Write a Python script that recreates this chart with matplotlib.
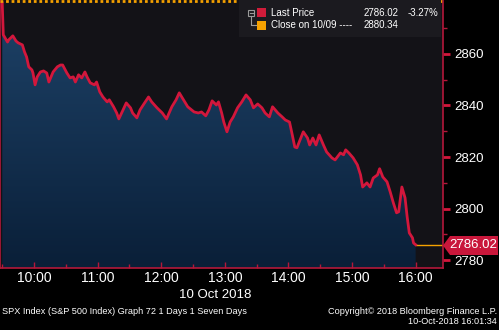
import numpy as np
import matplotlib
matplotlib.use('Agg')
import matplotlib.pyplot as plt
from matplotlib.colors import LinearSegmentedColormap
from matplotlib.patches import Rectangle, Polygon
from matplotlib.ticker import FixedLocator, FuncFormatter

plt.rcParams['font.family'] = ['Liberation Sans', 'DejaVu Sans']

# minutes after 09:30 and SPX price
minutes = [0, 1, 5, 6, 10, 13, 15, 19, 21, 23, 25, 28, 29, 31, 33, 36, 39, 42, 44, 48,
           52, 55, 57, 61, 64, 67, 69, 72, 75, 78, 80, 83, 87, 89, 92, 95, 99, 101, 105,
           108, 110, 114, 117, 121, 123, 127, 130, 133, 138, 141, 146, 151, 155, 160,
           164, 167, 171, 175, 181, 185, 188, 192, 195, 198, 202, 204, 207, 209, 212,
           215, 218, 222, 226, 230, 234, 237, 241, 245, 248, 252, 255, 260, 264, 267,
           271, 273, 276, 278, 281, 284, 288, 290, 293, 296, 299, 303, 306, 311, 314,
           319, 322, 324, 327, 331, 335, 338, 340, 344, 347, 350, 354, 356, 359, 363,
           366, 369, 372, 374, 377, 380, 382, 384, 387, 388, 390]
price = [2879.8, 2867.4, 2864.6, 2865.4, 2867.0, 2865.0, 2864.3, 2863.5, 2860.8, 2858.8,
         2855.0, 2853.8, 2852.6, 2848.0, 2851.1, 2853.0, 2853.4, 2852.6, 2849.1, 2853.0,
         2855.0, 2855.7, 2855.7, 2852.6, 2850.7, 2851.1, 2849.1, 2851.9, 2850.7, 2853.0,
         2851.1, 2848.8, 2848.0, 2849.1, 2845.3, 2843.3, 2841.4, 2842.2, 2839.5, 2837.1,
         2834.8, 2838.3, 2841.0, 2839.1, 2837.1, 2835.2, 2838.3, 2840.2, 2843.3, 2841.4,
         2839.1, 2837.1, 2834.8, 2839.5, 2842.2, 2844.9, 2842.2, 2839.5, 2837.5, 2837.1,
         2837.5, 2836.0, 2838.3, 2841.8, 2840.2, 2841.4, 2837.1, 2833.6, 2829.8, 2833.6,
         2835.6, 2839.1, 2841.4, 2844.1, 2842.2, 2839.1, 2840.6, 2839.1, 2837.1, 2835.6,
         2839.5, 2837.1, 2835.6, 2834.4, 2833.6, 2829.8, 2823.9, 2823.6, 2826.7, 2829.8,
         2827.4, 2824.7, 2827.4, 2824.7, 2828.6, 2824.7, 2822.0, 2819.7, 2818.9, 2821.6,
         2820.9, 2822.8, 2821.6, 2819.7, 2817.0, 2813.1, 2808.4, 2810.0, 2808.4, 2811.9,
         2813.1, 2815.5, 2812.3, 2810.4, 2806.5, 2802.2, 2798.4, 2798.8, 2808.4, 2804.2,
         2796.8, 2790.6, 2788.7, 2786.7, 2786.02]
last_price = 2786.02
prev_close = 2880.34
hour_labels = ['10:00', '11:00', '12:00', '13:00', '14:00', '15:00', '16:00']
y_ticks = [2780, 2800, 2820, 2840, 2860]

W, H = 499, 330
def fx(x):
    return x / W
def fy(y):
    return 1 - y / H

red = '#d3173c'
axis_red = '#b3183a'
orange = '#f5a100'

fig = plt.figure(figsize=(W / 100, H / 100), dpi=100, facecolor='black')
ax = fig.add_axes([0, fy(268), fx(443), 268 / H])
ax.set_facecolor('#131217')

xmin, xmax = -2.1, 415.8
ymin, ymax = 2777.0, 2880.9

# gradient area under the line
poly = ax.fill_between(minutes, price, ymin, color='none', lw=0)
cmap = LinearSegmentedColormap.from_list('fill', ['#0a1f38', '#1e4369'])
grad = np.linspace(0, 1, 256).reshape(-1, 1)
img = ax.imshow(grad, extent=[xmin, xmax, ymin, ymax], origin='lower',
                aspect='auto', cmap=cmap, zorder=1)
img.set_clip_path(poly.get_paths()[0], transform=ax.transData)

ax.plot(minutes, price, color=red, lw=2, zorder=3, solid_joinstyle='round')
ax.axhline(prev_close, color=orange, lw=2, ls=(0, (1, 1)), zorder=4)
ax.plot([minutes[-1], xmax], [last_price, last_price], color=orange, lw=1, zorder=2)

ax.set_xlim(xmin, xmax)
ax.set_ylim(ymin, ymax)

for s in ['left', 'bottom', 'right']:
    ax.spines[s].set_color(axis_red)
    ax.spines[s].set_linewidth(1.2)
ax.spines['top'].set_visible(False)

ax.xaxis.set_major_locator(FixedLocator([30 + 60 * i for i in range(7)]))
ax.xaxis.set_minor_locator(FixedLocator([60 * i for i in range(7)]))
ax.xaxis.set_major_formatter(FuncFormatter(lambda v, p: hour_labels[int(round((v - 30) / 60))]))
ax.tick_params(axis='x', which='major', direction='in', length=4, width=1,
               color=axis_red, labelcolor='white', labelsize=10, pad=2)
ax.tick_params(axis='x', which='minor', direction='in', length=3, width=1, color=axis_red)

ax.yaxis.tick_right()
ax.set_yticks(y_ticks)
ax.yaxis.set_minor_locator(FixedLocator([2790, 2810, 2830, 2850, 2870]))
ax.tick_params(axis='y', which='major', direction='out', length=5, width=2,
               color=red, labelcolor='white', labelsize=9.5, pad=3)
ax.tick_params(axis='y', which='minor', direction='out', length=3, width=1, color=axis_red)
ax.tick_params(axis='y', which='both', left=False)

# last price tag
fig.patches.append(Polygon([(fx(443), fy(245.5)), (fx(450), fy(236)), (fx(498), fy(236)),
                            (fx(498), fy(255)), (fx(450), fy(255))],
                           closed=True, fc='#c9173b', ec='none', transform=fig.transFigure))
fig.text(fx(473), fy(245.5), f'{last_price:.2f}', color='white', fontsize=9.5,
         ha='center', va='center')

# legend box
fig.patches.append(Rectangle((fx(239), fy(37)), fx(441) - fx(239), 37 / H,
                             fc='#1b1a1f', ec='none', transform=fig.transFigure, zorder=5))
fig.patches.append(Rectangle((fx(248), fy(16)), 6 / W, 6 / H, fc='none', ec='#9a9a9a',
                             lw=0.8, transform=fig.transFigure, zorder=6))
fig.lines.append(plt.Line2D([fx(249.5), fx(252.5)], [fy(13), fy(13)], color='#9a9a9a',
                            lw=0.8, transform=fig.transFigure, zorder=6))
fig.lines.append(plt.Line2D([fx(251), fx(251), fx(256)], [fy(16), fy(25), fy(25)],
                            color='#9a9a9a', lw=0.8, transform=fig.transFigure, zorder=6))
fig.patches.append(Rectangle((fx(257), fy(17)), 9 / W, 9 / H, fc='#d01c3a', ec='none',
                             transform=fig.transFigure, zorder=6))
fig.patches.append(Rectangle((fx(257), fy(29.5)), 9 / W, 9 / H, fc=orange, ec='none',
                             transform=fig.transFigure, zorder=6))
leg_kw = dict(color='white', fontsize=7, va='center', zorder=7)
fig.text(fx(271), fy(13), 'Last Price', **leg_kw)
fig.text(fx(364), fy(13), f'{last_price:.2f}', **leg_kw)
fig.text(fx(408), fy(13), '-3.27%', **leg_kw)
fig.text(fx(271), fy(25.5), 'Close on 10/09 ----', **leg_kw)
fig.text(fx(364), fy(25.5), f'{prev_close:.2f}', **leg_kw)

# date and footer
fig.text(fx(215), fy(295), '10 Oct 2018', color='white', fontsize=9.5, ha='center', va='center')
fig.text(fx(2), fy(311), 'SPX Index (S&P 500 Index) Graph 72 1 Days 1 Seven Days',
         color='white', fontsize=6.6, va='center')
fig.text(fx(497), fy(311), 'Copyright\u00a9 2018 Bloomberg Finance L.P.',
         color='white', fontsize=6.6, va='center', ha='right')
fig.text(fx(497), fy(322), '10-Oct-2018 16:01:34',
         color='white', fontsize=6.6, va='center', ha='right')

fig.savefig('out.png', dpi=100, facecolor='black')
